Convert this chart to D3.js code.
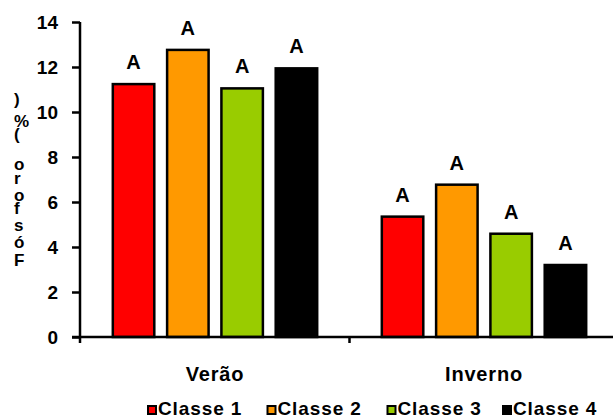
<!DOCTYPE html>
<html>
<head>
<meta charset="utf-8">
<script src="https://cdn.jsdelivr.net/npm/d3@7"></script>
<style>
  html, body { margin: 0; padding: 0; background: #fff; }
  svg { display: block; font-family: "Liberation Sans", Arial, sans-serif; font-weight: bold; }
</style>
</head>
<body>
<svg id="chart" width="613" height="419"></svg>
<script>
const seasons = ["Verão", "Inverno"];
const classes = ["Classe 1", "Classe 2", "Classe 3", "Classe 4"];
const colors = ["#FF0000", "#FF9900", "#99CC00", "#000000"];
const valuesVerao = [11.24, 12.76, 11.05, 11.94];
const valuesInverno = [5.35, 6.77, 4.59, 3.2];
const letters = [["A", "A", "A", "A"], ["A", "A", "A", "A"]];
const yTicks = [0, 2, 4, 6, 8, 10, 12, 14];
const yLabel = "Fósforo (%)";

const seriesValues = [valuesVerao, valuesInverno];
const data = [];
seasons.forEach((s, i) => classes.forEach((c, j) => {
  data.push({ season: s, cls: c, value: seriesValues[i][j], color: colors[j], letter: letters[i][j] });
}));

const svg = d3.select("#chart");
const x0 = d3.scaleBand().domain(seasons).range([80.5, 618.5]).paddingInner(0).paddingOuter(0);
const x1 = d3.scaleBand().domain(classes).range([0, x0.bandwidth()]).paddingInner(0.236).paddingOuter(0.595);
const y = d3.scaleLinear().domain([0, 14]).range([337, 22]);

// bars
svg.append("g").selectAll("rect").data(data).join("rect")
  .attr("x", d => x0(d.season) + x1(d.cls))
  .attr("y", d => y(d.value))
  .attr("width", x1.bandwidth())
  .attr("height", d => y(0) - y(d.value))
  .attr("fill", d => d.color)
  .attr("stroke", "#000")
  .attr("stroke-width", 2.5);

// letters above bars
svg.append("g").selectAll("text").data(data).join("text")
  .attr("x", d => x0(d.season) + x1(d.cls) + x1.bandwidth() / 2)
  .attr("y", d => y(d.value) - 15)
  .attr("text-anchor", "middle")
  .attr("font-size", 20)
  .attr("fill", "#000")
  .text(d => d.letter);

// y axis
const yAxis = svg.append("g").attr("transform", "translate(80,0)")
  .call(d3.axisLeft(y).tickValues(yTicks).tickSize(8).tickSizeOuter(0).tickPadding(14));
yAxis.select(".domain").attr("stroke-width", 2.5).attr("d", `M0,${y(14)}V${y(0) + 6}`);
yAxis.selectAll(".tick line").attr("stroke-width", 2.5);
yAxis.selectAll(".tick text").attr("font-size", 19).attr("font-family", "Liberation Sans, Arial, sans-serif").attr("font-weight", "bold").attr("fill", "#000");

// x axis: line with ticks at category boundaries
const xg = svg.append("g");
xg.append("line").attr("x1", 72).attr("x2", 613).attr("y1", y(0)).attr("y2", y(0))
  .attr("stroke", "#000").attr("stroke-width", 2.5);
const bounds = seasons.map(s => x0(s)).concat([x0(seasons[seasons.length - 1]) + x0.bandwidth()]);
xg.selectAll("line.t").data(bounds.slice(1)).join("line").attr("class", "t")
  .attr("x1", d => d).attr("x2", d => d).attr("y1", y(0)).attr("y2", y(0) + 6)
  .attr("stroke", "#000").attr("stroke-width", 2.5);
xg.selectAll("text").data(seasons).join("text")
  .attr("x", d => x0(d) + x0.bandwidth() / 2)
  .attr("y", 381)
  .attr("text-anchor", "middle")
  .attr("font-size", 20)
  .attr("letter-spacing", 0.8)
  .text(d => d);

// y axis label: rotated text reading bottom-to-top, each glyph turned upright
svg.append("text")
  .attr("transform", "rotate(-90)")
  .attr("x", -266)
  .attr("y", 14)
  .attr("font-size", 17)
  .attr("letter-spacing", 7.2)
  .attr("rotate", 90)
  .text(yLabel);

// legend
const legendX = [147, 266.5, 386.5, 502];
const lg = svg.append("g").selectAll("g").data(classes).join("g")
  .attr("transform", (d, i) => `translate(${legendX[i]},0)`);
lg.append("rect").attr("x", 1).attr("y", 406).attr("width", 8).attr("height", 8)
  .attr("fill", (d, i) => colors[i]).attr("stroke", "#000").attr("stroke-width", 2);
lg.append("text").attr("x", 11).attr("y", 414.5).attr("font-size", 19).attr("letter-spacing", 0.9)
  .text(d => d);
</script>
</body>
</html>
